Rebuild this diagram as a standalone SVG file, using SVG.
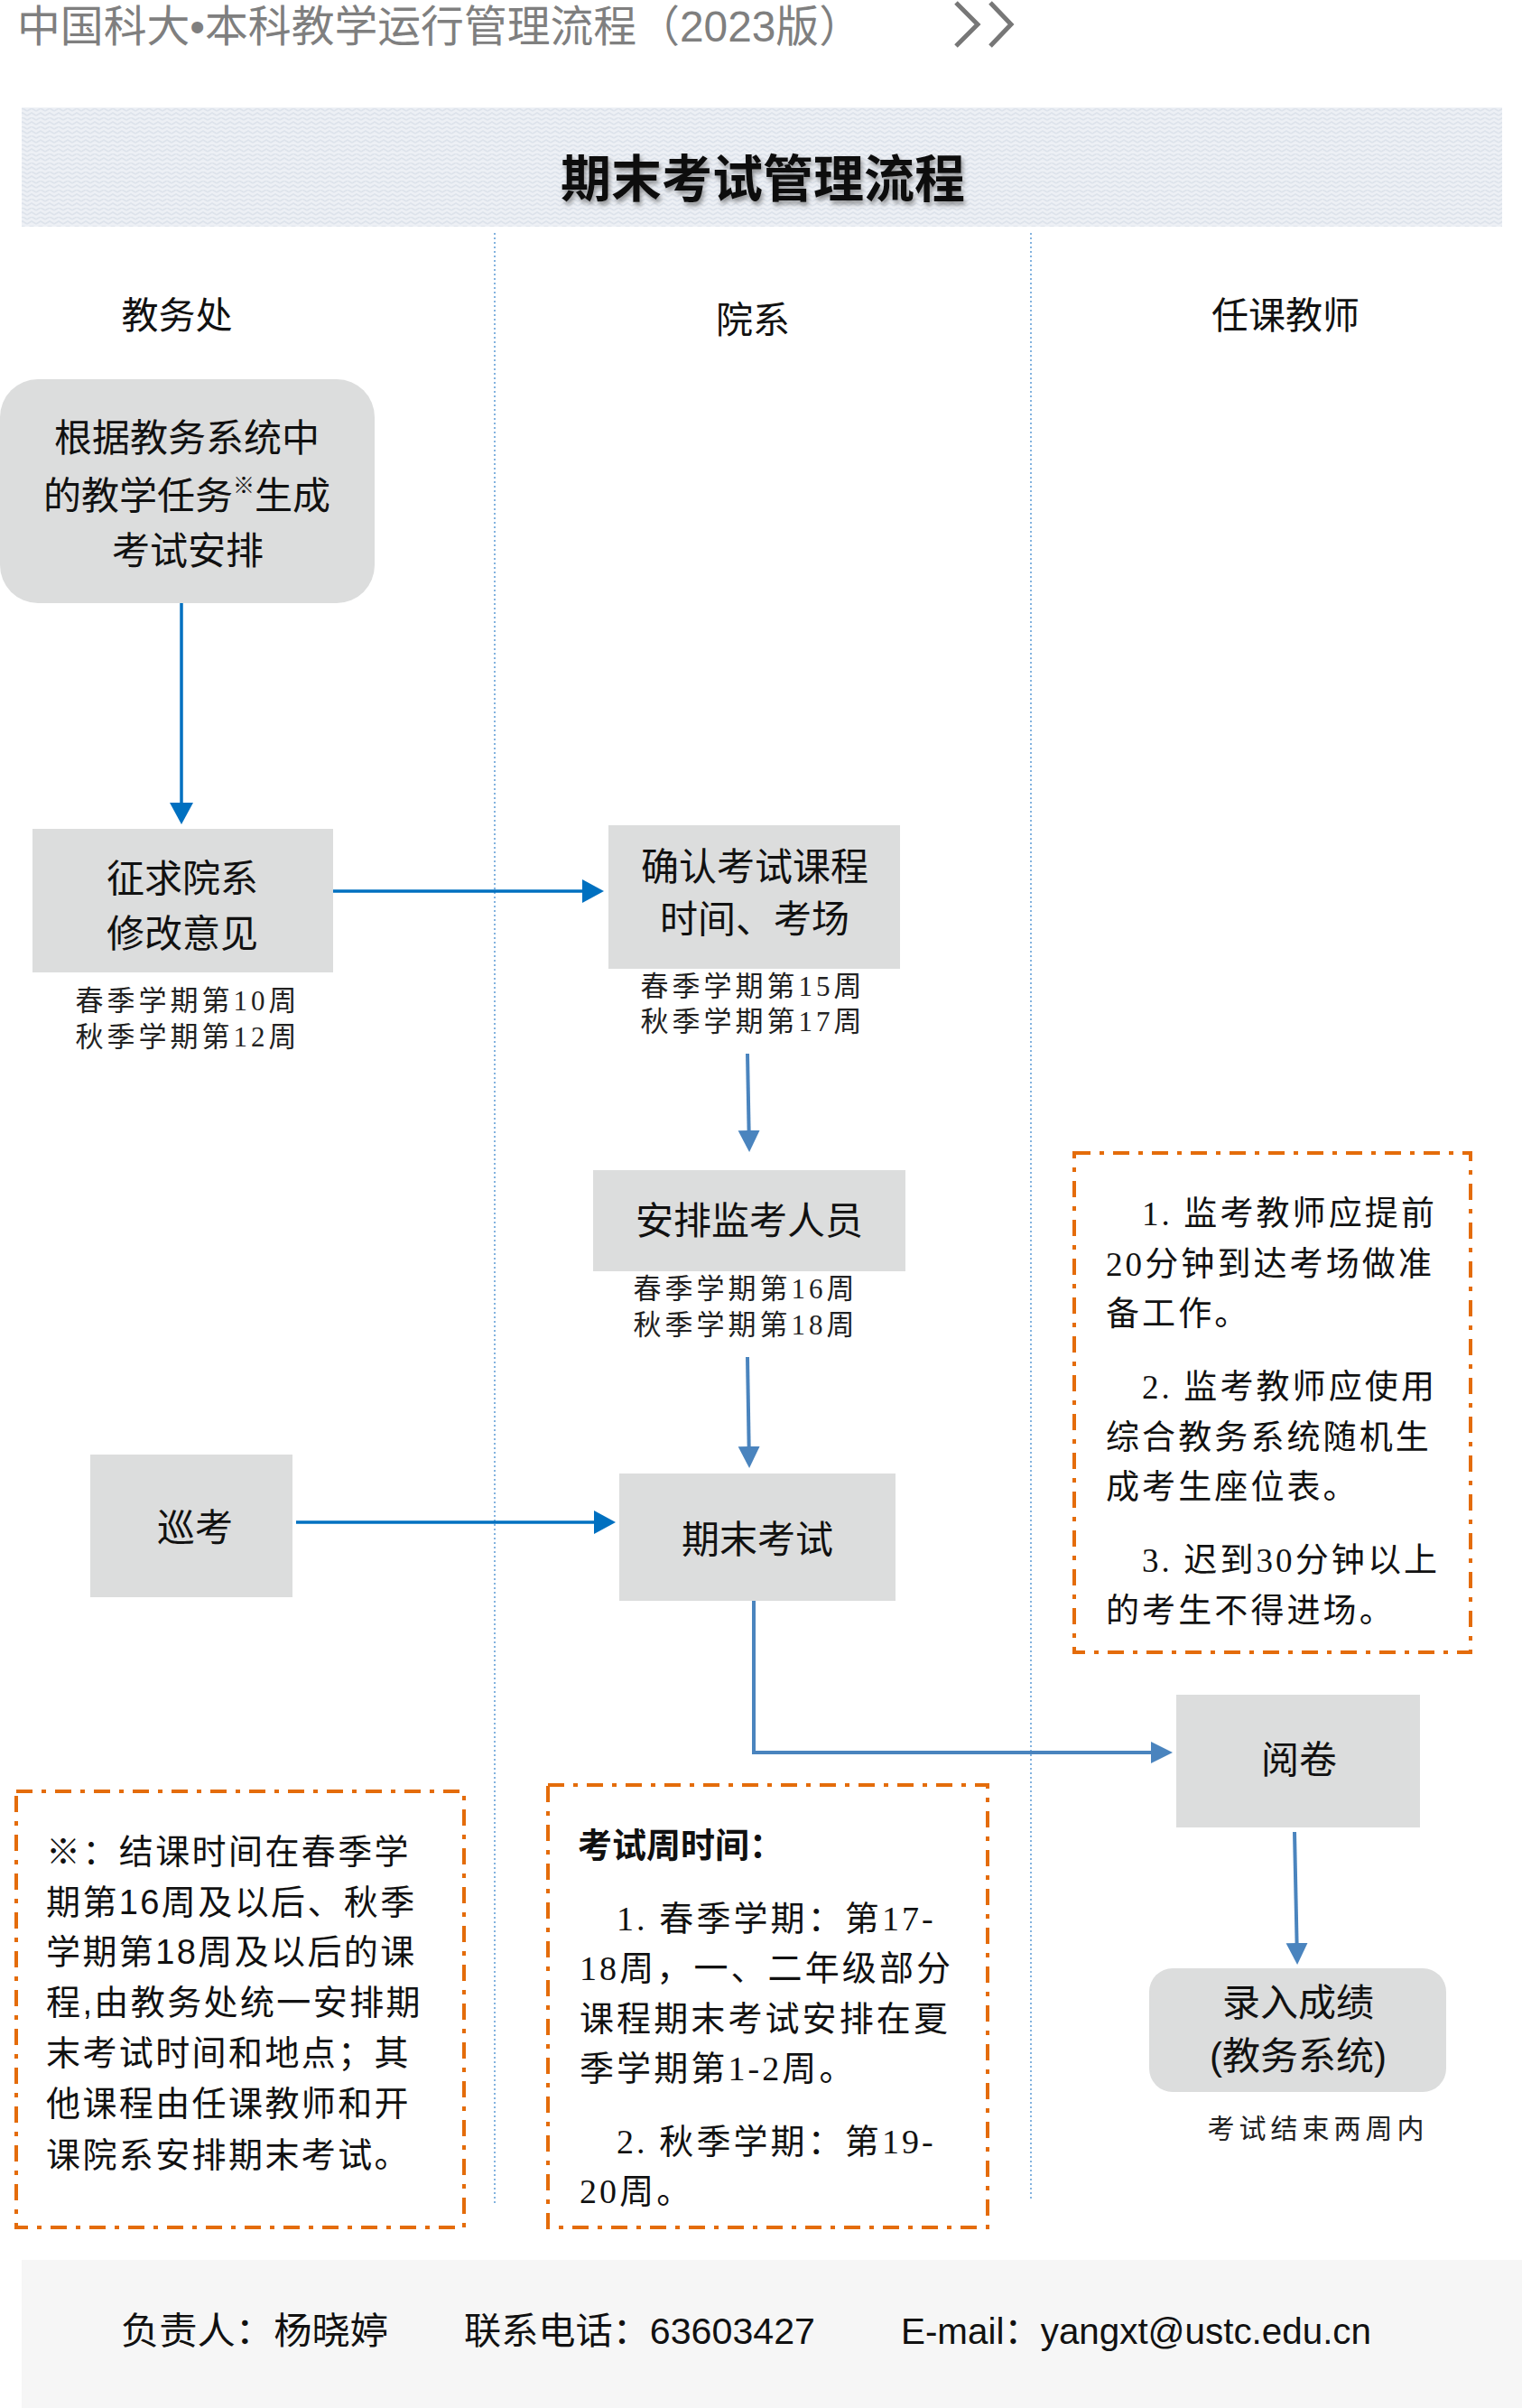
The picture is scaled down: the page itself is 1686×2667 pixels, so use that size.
<svg xmlns="http://www.w3.org/2000/svg" width="1686" height="2667" viewBox="0 0 1686 2667">
<style>
.sans{font-family:"Liberation Sans","Noto Sans CJK SC",sans-serif;}
.serif{font-family:"Liberation Serif","Noto Sans CJK SC",serif;}
.node{fill:#dcdddd;}
.nt{font-family:"Liberation Sans","Noto Sans CJK SC",sans-serif;font-size:42px;fill:#111;text-anchor:middle;}
.sub{font-family:"Liberation Serif","Noto Sans CJK SC",serif;font-size:31px;fill:#222;text-anchor:middle;letter-spacing:4px;}
.lane{font-family:"Liberation Sans","Noto Sans CJK SC",sans-serif;font-size:41px;fill:#111;text-anchor:middle;}
.note{fill:none;stroke:#e46c0a;stroke-width:4;stroke-dasharray:18 10 5 10;}
.rt{font-family:"Liberation Serif","Noto Sans CJK SC",serif;font-size:37px;fill:#111;letter-spacing:3.1px;}
.lt{font-family:"Liberation Sans","Noto Sans CJK SC",sans-serif;font-size:38px;fill:#111;letter-spacing:2.4px;}
.mt{font-family:"Liberation Serif","Noto Sans CJK SC",serif;font-size:38px;fill:#111;letter-spacing:3.1px;}
.bright{fill:none;stroke:#0070c0;stroke-width:3.5;}
.steel{fill:none;stroke:#4a84be;stroke-width:4;}
.divider{stroke:#5b9bd5;stroke-width:1.5;stroke-dasharray:2 3;}
.ft{font-family:"Liberation Sans","Noto Sans CJK SC",sans-serif;font-size:41px;fill:#111;}
</style>
<defs>
<pattern id="weave" width="10" height="10" patternUnits="userSpaceOnUse">
<rect width="10" height="10" fill="#edf0f5"/>
<path d="M0,3 L5,0 L10,3 M0,8 L5,5 L10,8" fill="none" stroke="#dde3eb" stroke-width="1.6"/>
</pattern>
<marker id="ab" markerUnits="userSpaceOnUse" markerWidth="26" markerHeight="26" refX="20" refY="13" orient="auto">
<path d="M0,0 L24,13 L0,26 z" fill="#0070c0"/>
</marker>
<marker id="as" markerUnits="userSpaceOnUse" markerWidth="26" markerHeight="26" refX="20" refY="12" orient="auto">
<path d="M0,0 L24,12 L0,24 z" fill="#4a84be"/>
</marker>
<filter id="shadow" x="-10%" y="-30%" width="120%" height="160%">
<feDropShadow dx="2" dy="4" stdDeviation="2.5" flood-color="#555" flood-opacity="0.6"/>
</filter>
</defs>
<rect width="1686" height="2667" fill="#ffffff"/>

<g id="header">
<text x="19" y="46" class="sans" font-size="48" fill="#7f7f7f" textLength="936" lengthAdjust="spacingAndGlyphs">中国科大•本科教学运行管理流程（2023版）</text>
<polyline points="1059,3 1083,27 1059,51" fill="none" stroke="#777" stroke-width="5"/>
<polyline points="1097,3 1120,27 1097,51" fill="none" stroke="#777" stroke-width="5"/>
</g>

<g id="banner">
<rect x="24" y="119" width="1640" height="132" fill="url(#weave)"/>
<text x="845" y="218" class="sans" font-size="56" font-weight="bold" fill="#111" text-anchor="middle" filter="url(#shadow)">期末考试管理流程</text>
</g>

<g id="lanes">
<line x1="548" y1="258" x2="548" y2="2441" class="divider"/>
<line x1="1142" y1="258" x2="1142" y2="2437" class="divider"/>
<text x="196" y="364" class="lane">教务处</text>
<text x="834" y="369" class="lane">院系</text>
<text x="1424" y="364" class="lane">任课教师</text>
</g>

<g id="connectors">
<line x1="201" y1="666" x2="201" y2="909" class="bright" marker-end="url(#ab)"/>
<line x1="367" y1="987" x2="665" y2="987" class="bright" marker-end="url(#ab)"/>
<line x1="828" y1="1167" x2="830" y2="1272" class="steel" marker-end="url(#as)"/>
<line x1="828" y1="1503" x2="830" y2="1622" class="steel" marker-end="url(#as)"/>
<line x1="328" y1="1686" x2="678" y2="1686" class="bright" marker-end="url(#ab)"/>
<polyline points="835,1769 835,1941 1295,1941" class="steel" marker-end="url(#as)"/>
<line x1="1434" y1="2029" x2="1437" y2="2172" class="steel" marker-end="url(#as)"/>
</g>

<g id="node-generate">
<rect x="0" y="420" width="415" height="248" rx="42" class="node"/>
<text x="207" y="500" class="nt">根据教务系统中</text>
<text x="207" y="564" class="nt">的教学任务<tspan font-size="24" dy="-18">※</tspan><tspan dy="18">生成</tspan></text>
<text x="208" y="625" class="nt">考试安排</text>
</g>

<g id="node-solicit">
<rect x="36" y="918" width="333" height="159" class="node"/>
<text x="202" y="988" class="nt">征求院系</text>
<text x="202" y="1049" class="nt">修改意见</text>
<text x="208" y="1119" class="sub">春季学期第10周</text>
<text x="208" y="1159" class="sub">秋季学期第12周</text>
</g>

<g id="node-confirm">
<rect x="674" y="914" width="323" height="159" class="node"/>
<text x="836" y="975" class="nt">确认考试课程</text>
<text x="836" y="1033" class="nt">时间、考场</text>
<text x="834" y="1103" class="sub">春季学期第15周</text>
<text x="834" y="1142" class="sub">秋季学期第17周</text>
</g>

<g id="node-proctor">
<rect x="657" y="1296" width="346" height="112" class="node"/>
<text x="830" y="1367" class="nt">安排监考人员</text>
<text x="826" y="1438" class="sub">春季学期第16周</text>
<text x="826" y="1478" class="sub">秋季学期第18周</text>
</g>

<g id="node-patrol">
<rect x="100" y="1611" width="224" height="158" class="node"/>
<text x="216" y="1707" class="nt">巡考</text>
</g>

<g id="node-exam">
<rect x="686" y="1632" width="306" height="141" class="node"/>
<text x="839" y="1720" class="nt">期末考试</text>
</g>

<g id="node-grading">
<rect x="1303" y="1877" width="270" height="147" class="node"/>
<text x="1439" y="1964" class="nt">阅卷</text>
</g>

<g id="node-record">
<rect x="1273" y="2180" width="329" height="137" rx="26" class="node"/>
<text x="1438" y="2233" class="nt">录入成绩</text>
<text x="1438" y="2292" class="nt">(教务系统)</text>
<text x="1460" y="2368" class="serif" font-size="30" fill="#222" text-anchor="middle" letter-spacing="5">考试结束两周内</text>
</g>

<g id="note-proctor">
<rect x="1190" y="1277" width="439" height="553" class="note"/>
<text x="1265" y="1357" class="rt">1. 监考教师应提前</text>
<text x="1225" y="1413" class="rt">20分钟到达考场做准</text>
<text x="1225" y="1468" class="rt">备工作。</text>
<text x="1265" y="1549" class="rt">2. 监考教师应使用</text>
<text x="1225" y="1605" class="rt">综合教务系统随机生</text>
<text x="1225" y="1660" class="rt">成考生座位表。</text>
<text x="1265" y="1741" class="rt">3. 迟到30分钟以上</text>
<text x="1225" y="1797" class="rt">的考生不得进场。</text>
</g>

<g id="note-schedule">
<rect x="18" y="1984" width="496" height="483" class="note"/>
<text x="51" y="2064" class="lt">※：结课时间在春季学</text>
<text x="51" y="2120" class="lt">期第16周及以后、秋季</text>
<text x="51" y="2175" class="lt">学期第18周及以后的课</text>
<text x="51" y="2231" class="lt">程,由教务处统一安排期</text>
<text x="51" y="2287" class="lt">末考试时间和地点；其</text>
<text x="51" y="2343" class="lt">他课程由任课教师和开</text>
<text x="51" y="2400" class="lt">课院系安排期末考试。</text>
</g>

<g id="note-examweek">
<rect x="607" y="1977" width="487" height="490" class="note"/>
<text x="640" y="2057" class="sans" font-size="38" font-weight="bold" fill="#111">考试周时间：</text>
<text x="683" y="2138" class="mt">1. 春季学期：第17-</text>
<text x="642" y="2193" class="mt">18周，一、二年级部分</text>
<text x="642" y="2249" class="mt">课程期末考试安排在夏</text>
<text x="642" y="2304" class="mt">季学期第1-2周。</text>
<text x="683" y="2385" class="mt">2. 秋季学期：第19-</text>
<text x="642" y="2440" class="mt">20周。</text>
</g>

<g id="footer">
<rect x="24" y="2503" width="1662" height="164" fill="#f6f6f6"/>
<text x="134" y="2596" class="ft" textLength="296" lengthAdjust="spacingAndGlyphs">负责人：杨晓婷</text>
<text x="514" y="2596" class="ft" textLength="389" lengthAdjust="spacingAndGlyphs">联系电话：63603427</text>
<text x="998" y="2596" class="ft" textLength="521" lengthAdjust="spacingAndGlyphs">E-mail：yangxt@ustc.edu.cn</text>
</g>
</svg>
